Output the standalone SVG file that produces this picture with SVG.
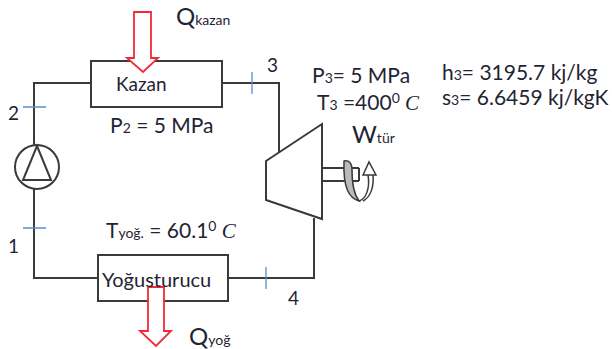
<svg xmlns="http://www.w3.org/2000/svg" width="612" height="349" viewBox="0 0 612 349">
<style>
text{font-family:Lato,"Liberation Sans",sans-serif;fill:#1f2433;font-size:19px}
.m{font-size:21px}
.s{font-size:14px}
.q{font-size:24px}
.i{font-family:"Liberation Serif",serif;font-style:italic}
.l{fill:none;stroke:#3a3a3a;stroke-width:2}
.b{fill:#fff;stroke:#3a3a3a;stroke-width:2}
.tick{fill:none;stroke:#5b8fc9;stroke-width:1.3}
.red{fill:#fff;stroke:#f22a35;stroke-width:1.8}
</style>
<rect width="612" height="349" fill="#fff"/>
<g id="connectors">
<path class="l" d="M91 83H34V146M34 188V278H98M222 83H279V153M228 278H314V218"/>
<path class="tick" d="M23 107H46M252 72V94M23 228H46M266 267V289"/>
</g>
<g id="kazan"><rect class="b" x="91" y="61" width="131" height="46"/><text x="116" y="91">Kazan</text></g>
<g id="kazan-heat"><path class="red" d="M134 12H151V58H158L143 72L127 58H134Z"/></g>
<g id="pump"><circle class="b" cx="37" cy="167" r="22"/><path class="l" d="M37 146L23 180H51Z"/></g>
<g id="turbine">
<path class="b" d="M266 161L322 124V219L266 200Z"/>
<path class="l" d="M322 168H359M322 181H359M359 168V181"/>
<path fill="#bbb" stroke="#3a3a3a" stroke-width="1.5" d="M344 161C349 160 352 163 352 170C352 182 353 193 359 201C349 198 343 188 344 161Z"/>
<path fill="none" stroke="#3a3a3a" stroke-width="1.5" d="M359 201C367 199 370 186 368 175M363 201C371 197 374 186 373 175M363 175L369 162L376 175Z"/>
</g>
<g id="condenser"><rect class="b" x="98" y="255" width="130" height="46"/><path class="red" d="M148 287H164V331H171L156 346L140 331H148Z"/><text style="font-size:20px" x="102" y="287">Yoğusturucu</text></g>
<g id="labels">
<text class="q" x="176" y="25">Q<tspan class="s">kazan</tspan></text>
<text x="8" y="120">2</text>
<text x="267" y="72">3</text>
<text x="8" y="253">1</text>
<text x="288" y="305">4</text>
<text class="m" x="110" y="133">P<tspan class="s">2</tspan> = 5 MPa</text>
<text class="m" x="312" y="83">P<tspan class="s">3</tspan>= 5 MPa</text>
<text class="m" x="317" y="110">T<tspan class="s">3</tspan> =400<tspan dy="-7" class="s">0</tspan><tspan dy="7" class="i"> C</tspan></text>
<text class="q" x="352" y="143">W<tspan class="s">tür</tspan></text>
<text class="m" x="442" y="80">h<tspan class="s">3</tspan>= 3195.7 kj/kg</text>
<text class="m" x="442" y="105">s<tspan class="s">3</tspan>= 6.6459 kj/kgK</text>
<text class="m" x="106" y="238">T<tspan class="s">yoğ.</tspan> = 60.1<tspan dy="-7" class="s">0</tspan><tspan dy="7" class="i"> C</tspan></text>
<text class="q" x="189" y="345">Q<tspan class="s">yoğ</tspan></text>
</g>
</svg>
